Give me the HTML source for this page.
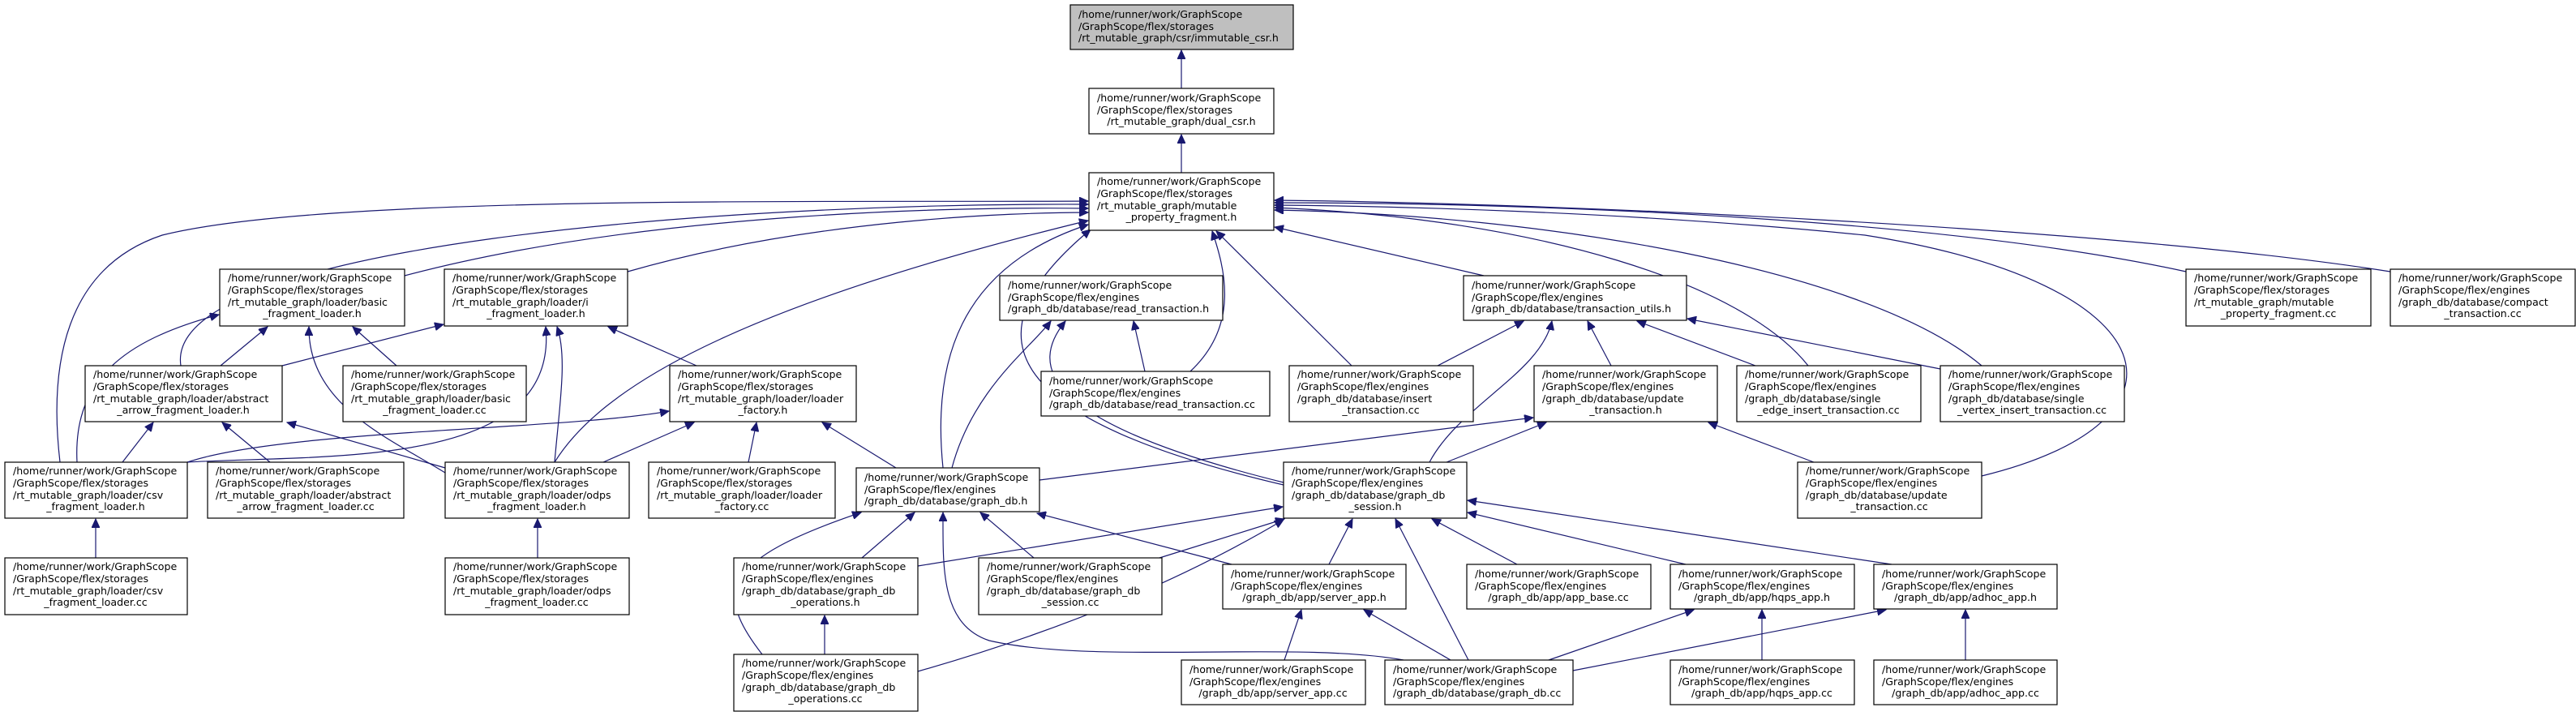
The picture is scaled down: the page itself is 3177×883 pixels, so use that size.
<!DOCTYPE html>
<html><head><meta charset="utf-8"><style>
html,body{margin:0;padding:0;background:#fff;width:3177px;height:883px;overflow:hidden}
svg{display:block}
text{font-family:"DejaVu Sans","Liberation Sans",sans-serif;font-size:12.6px;fill:#000}
.n rect{fill:#fff;stroke:#000;stroke-width:1.2}
.e path{fill:none;stroke:#191970;stroke-width:1.2}
</style></head><body>
<svg width="3177" height="883" viewBox="0 0 3177 883" xmlns="http://www.w3.org/2000/svg">
<defs><marker id="a" markerUnits="userSpaceOnUse" markerWidth="12" markerHeight="10" refX="11" refY="5" orient="auto"><path d="M0,0 L11,5 L0,10 z" fill="#191970" stroke="#191970"/></marker></defs>
<g class="e" marker-end="url(#a)">
<path marker-end="url(#a)" d="M1457,109 L1457,62"/>
<path marker-end="url(#a)" d="M1457,213 L1457,166"/>
<path marker-end="url(#a)" d="M74,570 C60,450 80,330 200,290 C400,240 1000,250 1342,248"/>
<path marker-end="url(#a)" d="M95,570 C90,470 150,420 270,388"/>
<path marker-end="url(#a)" d="M223,451 C200,300 900,250 1342,252"/>
<path marker-end="url(#a)" d="M499,340 C800,260 1200,255 1342,257"/>
<path marker-end="url(#a)" d="M774,335 C1000,270 1250,262 1342,262"/>
<path marker-end="url(#a)" d="M272,451 L330,403"/>
<path marker-end="url(#a)" d="M489,451 L435,403"/>
<path marker-end="url(#a)" d="M549,583 C480,540 380,500 381,403"/>
<path marker-end="url(#a)" d="M549,577 L354,521"/>
<path marker-end="url(#a)" d="M151,570 L189,521"/>
<path marker-end="url(#a)" d="M333,570 L274,521"/>
<path marker-end="url(#a)" d="M348,451 L547,400"/>
<path marker-end="url(#a)" d="M231,570 C400,560 690,580 673,403"/>
<path marker-end="url(#a)" d="M684,570 C690,500 700,440 687,403"/>
<path marker-end="url(#a)" d="M859,451 L750,403"/>
<path marker-end="url(#a)" d="M231,570 C350,530 700,530 825,507"/>
<path marker-end="url(#a)" d="M744,570 L856,521"/>
<path marker-end="url(#a)" d="M923,570 L933,521"/>
<path marker-end="url(#a)" d="M1105,577 L1014,521"/>
<path marker-end="url(#a)" d="M684,570 C740,480 900,380 1342,272"/>
<path marker-end="url(#a)" d="M1163,577 C1150,450 1180,330 1342,277"/>
<path marker-end="url(#a)" d="M1583,598 C1250,520 1180,420 1345,283"/>
<path marker-end="url(#a)" d="M1174,577 C1200,480 1270,430 1296,396"/>
<path marker-end="url(#a)" d="M1583,595 C1280,520 1270,450 1314,396"/>
<path marker-end="url(#a)" d="M1412,458 L1398,396"/>
<path marker-end="url(#a)" d="M1468,458 C1530,400 1510,330 1495,285"/>
<path marker-end="url(#a)" d="M1667,451 L1500,285"/>
<path marker-end="url(#a)" d="M1830,340 L1572,280"/>
<path marker-end="url(#a)" d="M1773,451 L1879,396"/>
<path marker-end="url(#a)" d="M1763,570 C1800,500 1900,460 1914,396"/>
<path marker-end="url(#a)" d="M1987,451 L1958,396"/>
<path marker-end="url(#a)" d="M2165,451 L2019,396"/>
<path marker-end="url(#a)" d="M2393,455 L2081,393"/>
<path marker-end="url(#a)" d="M1784,570 L1907,521"/>
<path marker-end="url(#a)" d="M1282,592 L1891,515"/>
<path marker-end="url(#a)" d="M2237,570 L2107,521"/>
<path marker-end="url(#a)" d="M2230,451 C2150,350 1900,270 1572,256"/>
<path marker-end="url(#a)" d="M2444,451 C2300,330 1900,265 1572,259"/>
<path marker-end="url(#a)" d="M2444,587 C2720,520 2680,350 2300,290 C2000,260 1700,254 1572,253"/>
<path marker-end="url(#a)" d="M2696,335 C2400,270 1900,250 1572,250"/>
<path marker-end="url(#a)" d="M2948,335 C2600,280 1900,250 1572,247"/>
<path marker-end="url(#a)" d="M1063,688 L1128,632"/>
<path marker-end="url(#a)" d="M1275,688 L1209,632"/>
<path marker-end="url(#a)" d="M1519,696 L1279,633"/>
<path marker-end="url(#a)" d="M940,807 C880,730 890,690 1062,632"/>
<path marker-end="url(#a)" d="M1731,814 C1600,790 1350,820 1220,790 C1160,770 1163,700 1163,632"/>
<path marker-end="url(#a)" d="M1132,698 L1582,625"/>
<path marker-end="url(#a)" d="M1430,688 L1584,640"/>
<path marker-end="url(#a)" d="M1639,696 L1668,640"/>
<path marker-end="url(#a)" d="M1871,696 L1766,640"/>
<path marker-end="url(#a)" d="M2079,696 L1810,632"/>
<path marker-end="url(#a)" d="M2333,696 L1810,617"/>
<path marker-end="url(#a)" d="M1811,814 L1721,640"/>
<path marker-end="url(#a)" d="M1132,828 C1300,780 1450,720 1583,641"/>
<path marker-end="url(#a)" d="M1584,814 L1605,752"/>
<path marker-end="url(#a)" d="M1789,814 L1682,752"/>
<path marker-end="url(#a)" d="M1910,814 L2089,752"/>
<path marker-end="url(#a)" d="M1940,827 L2326,752"/>
<path marker-end="url(#a)" d="M2173,814 L2173,752"/>
<path marker-end="url(#a)" d="M2424,814 L2424,752"/>
<path marker-end="url(#a)" d="M118,688 L118,640"/>
<path marker-end="url(#a)" d="M663,688 L663,640"/>
<path marker-end="url(#a)" d="M1017,807 L1017,759"/>
</g>
<g class="n">
<rect x="1320" y="6" width="275" height="55" style="fill:#bfbfbf"/>
<text x="1330" y="22">/home/runner/work/GraphScope</text><text x="1330" y="37">/GraphScope/flex/storages</text><text x="1330" y="51">/rt_mutable_graph/csr/immutable_csr.h</text>

<rect x="1343" y="109" width="228" height="56"/>
<text x="1353" y="125">/home/runner/work/GraphScope</text><text x="1353" y="140">/GraphScope/flex/storages</text><text x="1457" y="154" text-anchor="middle">/rt_mutable_graph/dual_csr.h</text>

<rect x="1343" y="213" width="228" height="71"/>
<text x="1353" y="228">/home/runner/work/GraphScope</text><text x="1353" y="243">/GraphScope/flex/storages</text><text x="1353" y="258">/rt_mutable_graph/mutable</text><text x="1457" y="272" text-anchor="middle">_property_fragment.h</text>

<rect x="271" y="332" width="228" height="70"/>
<text x="281" y="347">/home/runner/work/GraphScope</text><text x="281" y="362">/GraphScope/flex/storages</text><text x="281" y="377">/rt_mutable_graph/loader/basic</text><text x="385" y="391" text-anchor="middle">_fragment_loader.h</text>

<rect x="548" y="332" width="226" height="70"/>
<text x="558" y="347">/home/runner/work/GraphScope</text><text x="558" y="362">/GraphScope/flex/storages</text><text x="558" y="377">/rt_mutable_graph/loader/i</text><text x="661" y="391" text-anchor="middle">_fragment_loader.h</text>

<rect x="1233" y="340" width="275" height="55"/>
<text x="1243" y="356">/home/runner/work/GraphScope</text><text x="1243" y="371">/GraphScope/flex/engines</text><text x="1243" y="385">/graph_db/database/read_transaction.h</text>

<rect x="1805" y="340" width="275" height="55"/>
<text x="1815" y="356">/home/runner/work/GraphScope</text><text x="1815" y="371">/GraphScope/flex/engines</text><text x="1815" y="385">/graph_db/database/transaction_utils.h</text>

<rect x="2696" y="332" width="228" height="70"/>
<text x="2706" y="347">/home/runner/work/GraphScope</text><text x="2706" y="362">/GraphScope/flex/storages</text><text x="2706" y="377">/rt_mutable_graph/mutable</text><text x="2810" y="391" text-anchor="middle">_property_fragment.cc</text>

<rect x="2948" y="332" width="228" height="70"/>
<text x="2958" y="347">/home/runner/work/GraphScope</text><text x="2958" y="362">/GraphScope/flex/engines</text><text x="2958" y="377">/graph_db/database/compact</text><text x="3062" y="391" text-anchor="middle">_transaction.cc</text>

<rect x="105" y="451" width="243" height="69"/>
<text x="115" y="466">/home/runner/work/GraphScope</text><text x="115" y="481">/GraphScope/flex/storages</text><text x="115" y="496">/rt_mutable_graph/loader/abstract</text><text x="226" y="510" text-anchor="middle">_arrow_fragment_loader.h</text>

<rect x="423" y="451" width="226" height="69"/>
<text x="433" y="466">/home/runner/work/GraphScope</text><text x="433" y="481">/GraphScope/flex/storages</text><text x="433" y="496">/rt_mutable_graph/loader/basic</text><text x="536" y="510" text-anchor="middle">_fragment_loader.cc</text>

<rect x="826" y="451" width="230" height="69"/>
<text x="836" y="466">/home/runner/work/GraphScope</text><text x="836" y="481">/GraphScope/flex/storages</text><text x="836" y="496">/rt_mutable_graph/loader/loader</text><text x="941" y="510" text-anchor="middle">_factory.h</text>

<rect x="1284" y="458" width="282" height="55"/>
<text x="1294" y="474">/home/runner/work/GraphScope</text><text x="1294" y="489">/GraphScope/flex/engines</text><text x="1294" y="503">/graph_db/database/read_transaction.cc</text>

<rect x="1590" y="451" width="227" height="69"/>
<text x="1600" y="466">/home/runner/work/GraphScope</text><text x="1600" y="481">/GraphScope/flex/engines</text><text x="1600" y="496">/graph_db/database/insert</text><text x="1703" y="510" text-anchor="middle">_transaction.cc</text>

<rect x="1892" y="451" width="226" height="69"/>
<text x="1902" y="466">/home/runner/work/GraphScope</text><text x="1902" y="481">/GraphScope/flex/engines</text><text x="1902" y="496">/graph_db/database/update</text><text x="2005" y="510" text-anchor="middle">_transaction.h</text>

<rect x="2142" y="451" width="227" height="69"/>
<text x="2152" y="466">/home/runner/work/GraphScope</text><text x="2152" y="481">/GraphScope/flex/engines</text><text x="2152" y="496">/graph_db/database/single</text><text x="2255" y="510" text-anchor="middle">_edge_insert_transaction.cc</text>

<rect x="2393" y="451" width="227" height="69"/>
<text x="2403" y="466">/home/runner/work/GraphScope</text><text x="2403" y="481">/GraphScope/flex/engines</text><text x="2403" y="496">/graph_db/database/single</text><text x="2506" y="510" text-anchor="middle">_vertex_insert_transaction.cc</text>

<rect x="6" y="570" width="225" height="69"/>
<text x="16" y="585">/home/runner/work/GraphScope</text><text x="16" y="600">/GraphScope/flex/storages</text><text x="16" y="615">/rt_mutable_graph/loader/csv</text><text x="118" y="629" text-anchor="middle">_fragment_loader.h</text>

<rect x="256" y="570" width="242" height="69"/>
<text x="266" y="585">/home/runner/work/GraphScope</text><text x="266" y="600">/GraphScope/flex/storages</text><text x="266" y="615">/rt_mutable_graph/loader/abstract</text><text x="377" y="629" text-anchor="middle">_arrow_fragment_loader.cc</text>

<rect x="549" y="570" width="227" height="69"/>
<text x="559" y="585">/home/runner/work/GraphScope</text><text x="559" y="600">/GraphScope/flex/storages</text><text x="559" y="615">/rt_mutable_graph/loader/odps</text><text x="662" y="629" text-anchor="middle">_fragment_loader.h</text>

<rect x="800" y="570" width="230" height="69"/>
<text x="810" y="585">/home/runner/work/GraphScope</text><text x="810" y="600">/GraphScope/flex/storages</text><text x="810" y="615">/rt_mutable_graph/loader/loader</text><text x="915" y="629" text-anchor="middle">_factory.cc</text>

<rect x="1056" y="577" width="226" height="54"/>
<text x="1066" y="593">/home/runner/work/GraphScope</text><text x="1066" y="608">/GraphScope/flex/engines</text><text x="1066" y="622">/graph_db/database/graph_db.h</text>

<rect x="1583" y="570" width="226" height="69"/>
<text x="1593" y="585">/home/runner/work/GraphScope</text><text x="1593" y="600">/GraphScope/flex/engines</text><text x="1593" y="615">/graph_db/database/graph_db</text><text x="1696" y="629" text-anchor="middle">_session.h</text>

<rect x="2217" y="570" width="227" height="69"/>
<text x="2227" y="585">/home/runner/work/GraphScope</text><text x="2227" y="600">/GraphScope/flex/engines</text><text x="2227" y="615">/graph_db/database/update</text><text x="2330" y="629" text-anchor="middle">_transaction.cc</text>

<rect x="6" y="688" width="225" height="70"/>
<text x="16" y="703">/home/runner/work/GraphScope</text><text x="16" y="718">/GraphScope/flex/storages</text><text x="16" y="733">/rt_mutable_graph/loader/csv</text><text x="118" y="747" text-anchor="middle">_fragment_loader.cc</text>

<rect x="549" y="688" width="227" height="70"/>
<text x="559" y="703">/home/runner/work/GraphScope</text><text x="559" y="718">/GraphScope/flex/storages</text><text x="559" y="733">/rt_mutable_graph/loader/odps</text><text x="662" y="747" text-anchor="middle">_fragment_loader.cc</text>

<rect x="905" y="688" width="227" height="70"/>
<text x="915" y="703">/home/runner/work/GraphScope</text><text x="915" y="718">/GraphScope/flex/engines</text><text x="915" y="733">/graph_db/database/graph_db</text><text x="1018" y="747" text-anchor="middle">_operations.h</text>

<rect x="1207" y="688" width="226" height="70"/>
<text x="1217" y="703">/home/runner/work/GraphScope</text><text x="1217" y="718">/GraphScope/flex/engines</text><text x="1217" y="733">/graph_db/database/graph_db</text><text x="1320" y="747" text-anchor="middle">_session.cc</text>

<rect x="1508" y="696" width="226" height="55"/>
<text x="1518" y="712">/home/runner/work/GraphScope</text><text x="1518" y="727">/GraphScope/flex/engines</text><text x="1621" y="741" text-anchor="middle">/graph_db/app/server_app.h</text>

<rect x="1809" y="696" width="227" height="55"/>
<text x="1819" y="712">/home/runner/work/GraphScope</text><text x="1819" y="727">/GraphScope/flex/engines</text><text x="1922" y="741" text-anchor="middle">/graph_db/app/app_base.cc</text>

<rect x="2060" y="696" width="227" height="55"/>
<text x="2070" y="712">/home/runner/work/GraphScope</text><text x="2070" y="727">/GraphScope/flex/engines</text><text x="2173" y="741" text-anchor="middle">/graph_db/app/hqps_app.h</text>

<rect x="2311" y="696" width="226" height="55"/>
<text x="2321" y="712">/home/runner/work/GraphScope</text><text x="2321" y="727">/GraphScope/flex/engines</text><text x="2424" y="741" text-anchor="middle">/graph_db/app/adhoc_app.h</text>

<rect x="905" y="807" width="227" height="70"/>
<text x="915" y="822">/home/runner/work/GraphScope</text><text x="915" y="837">/GraphScope/flex/engines</text><text x="915" y="852">/graph_db/database/graph_db</text><text x="1018" y="866" text-anchor="middle">_operations.cc</text>

<rect x="1457" y="814" width="227" height="55"/>
<text x="1467" y="830">/home/runner/work/GraphScope</text><text x="1467" y="845">/GraphScope/flex/engines</text><text x="1570" y="859" text-anchor="middle">/graph_db/app/server_app.cc</text>

<rect x="1708" y="814" width="232" height="55"/>
<text x="1718" y="830">/home/runner/work/GraphScope</text><text x="1718" y="845">/GraphScope/flex/engines</text><text x="1718" y="859">/graph_db/database/graph_db.cc</text>

<rect x="2060" y="814" width="227" height="55"/>
<text x="2070" y="830">/home/runner/work/GraphScope</text><text x="2070" y="845">/GraphScope/flex/engines</text><text x="2173" y="859" text-anchor="middle">/graph_db/app/hqps_app.cc</text>

<rect x="2311" y="814" width="226" height="55"/>
<text x="2321" y="830">/home/runner/work/GraphScope</text><text x="2321" y="845">/GraphScope/flex/engines</text><text x="2424" y="859" text-anchor="middle">/graph_db/app/adhoc_app.cc</text>
</g>
</svg>
</body></html>
